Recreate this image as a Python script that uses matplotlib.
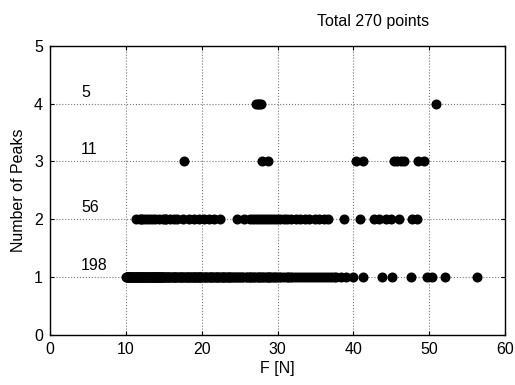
import matplotlib
matplotlib.use("Agg")
import matplotlib.pyplot as plt

plt.rcParams['font.family'] = ['Liberation Sans', 'DejaVu Sans']

# force values (N) grouped by number of peaks
f_one = [
    10.0, 10.1, 10.2, 10.3, 10.4, 10.5, 10.6, 10.7, 10.8, 10.9,
    11.0, 11.1, 11.2, 11.3, 11.4, 11.5, 11.6, 11.7, 11.8, 11.9,
    12.0, 12.1, 12.2, 12.3, 12.4, 12.5, 12.6, 12.7, 12.8, 12.9,
    13.0, 13.1, 13.2, 13.3, 13.4, 13.5, 13.6, 13.7, 13.8, 13.9,
    14.0, 14.1, 14.2, 14.3, 14.4, 14.5, 14.6, 14.7, 14.8, 14.9,
    10.15, 10.45, 10.85, 11.25, 11.65, 12.05, 12.45, 12.85, 13.25, 13.65,
    14.05, 14.45, 14.85, 10.35, 11.45, 12.35, 13.55, 14.25, 10.65, 11.85,
    15.0, 15.1, 15.3, 15.4, 15.6, 15.7, 15.9, 16.0, 16.2, 16.3,
    16.5, 16.6, 16.8, 16.9, 17.1, 17.2, 17.4, 17.5, 17.7, 17.8,
    18.0, 18.1, 18.3, 18.4, 18.6, 18.7, 18.9, 19.0, 19.2, 19.3,
    19.5, 19.6, 19.8, 19.9, 15.5, 16.4, 17.3, 18.2, 19.1, 19.7,
    20.1, 20.3, 20.5, 20.7, 20.9, 21.1, 21.3, 21.5, 21.7, 21.9,
    22.1, 22.3, 22.5, 22.7, 22.9, 23.1, 23.3, 23.5, 23.7, 23.9,
    24.1, 24.3, 24.5, 24.7, 24.9, 20.4, 21.2, 22.0, 22.8, 23.6,
    25.1, 25.3, 25.5, 25.8, 26.0, 26.2, 26.5, 26.7, 26.9, 27.2,
    27.4, 27.6, 27.9, 28.1, 28.3, 28.6, 28.8, 29.0, 29.3, 29.5,
    29.7, 29.9, 26.4, 27.7, 28.9,
    30.2, 30.5, 30.9, 31.2, 31.6, 31.9, 32.3, 32.7, 33.1, 33.5,
    33.9, 34.3, 34.7, 35.1, 35.5,
    35.9, 36.3, 36.7, 37.0, 37.4, 37.7,
    38.4, 39.0, 40.0, 41.2, 43.7, 45.1, 47.6, 49.7, 50.4, 52.1,
    56.3, 31.4,
]
f_two = [
    11.4, 11.9, 12.0, 12.3, 12.7, 13.1, 13.5, 13.9, 14.4, 14.9,
    15.1, 15.3, 15.8, 16.3, 16.8, 17.6, 18.3, 19.0, 19.6, 20.3,
    20.9, 21.6, 22.4, 24.7, 25.6, 26.3, 26.8, 27.2, 27.6,
    28.0, 28.3, 28.7, 29.1, 29.5, 29.9, 30.3, 30.8, 31.3, 31.8,
    32.4, 33.0, 33.6, 34.2, 34.9, 35.5, 36.1, 36.7, 38.7, 40.9,
    42.7, 43.4, 44.3, 44.9, 46.0, 47.7, 48.4,
]
f_three = [17.7, 28.0, 28.8, 40.4, 41.2, 45.3, 45.8, 46.2, 46.6, 48.5, 49.3]
f_four = [27.2, 27.4, 27.6, 27.8, 50.9]

groups = [(1, f_one), (2, f_two), (3, f_three), (4, f_four)]
total = sum(len(f) for _, f in groups)

fig = plt.figure(figsize=(5.15, 3.85), dpi=100)
ax = fig.add_axes([0.097, 0.130, 0.884, 0.751])

for peaks, forces in groups:
    ax.plot(forces, [peaks] * len(forces), 'o', color='black', ms=6.2,
            linestyle='none', zorder=3)
    ax.text(4.1, peaks + 0.07, str(len(forces)), fontsize=11.5,
            ha='left', va='bottom')

ax.set_xlim(0, 60)
ax.set_ylim(0, 5)
ax.set_xticks(range(0, 61, 10))
ax.set_yticks(range(0, 6))
ax.grid(True, linestyle=':', color='#777777', linewidth=0.8)
ax.tick_params(direction='in', top=True, right=True, labelsize=11.5,
               length=3, pad=5)
for s in ax.spines.values():
    s.set_linewidth(1.0)

ax.set_xlabel('F [N]', fontsize=11.5, labelpad=3)
ax.set_ylabel('Number of Peaks', fontsize=11.5, labelpad=6)
ax.set_title('Total %d points' % total, fontsize=11.5, x=0.71, pad=14)

fig.savefig('out.png', dpi=100)
